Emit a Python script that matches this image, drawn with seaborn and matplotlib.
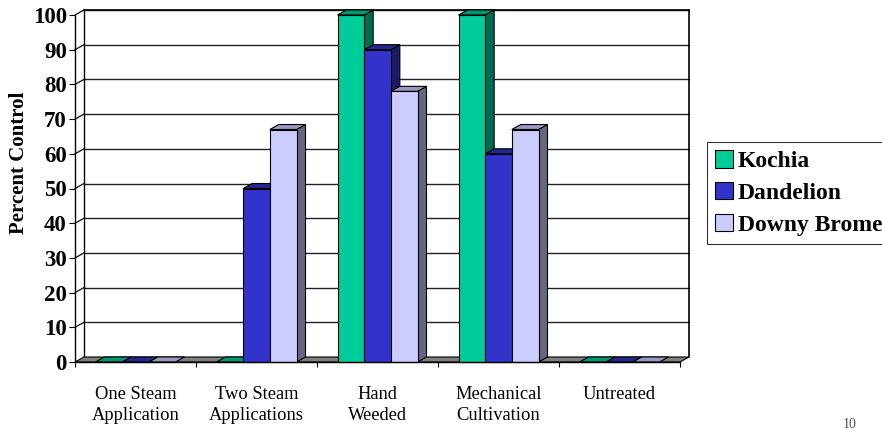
import numpy as np
import pandas as pd
import matplotlib
matplotlib.use("Agg")
import matplotlib.pyplot as plt
import matplotlib.transforms as mtransforms
from matplotlib.colors import to_hex
from matplotlib.patches import Polygon, Rectangle
from matplotlib.lines import Line2D
import seaborn as sns

# ---- data -------------------------------------------------------------
treatments = ["One Steam\nApplication", "Two Steam\nApplications", "Hand\nWeeded",
              "Mechanical\nCultivation", "Untreated"]
species = ["Kochia", "Dandelion", "Downy Brome"]
kochia = [0, 0, 100, 100, 0]
dandelion = [0, 50, 90, 60, 0]
downy_brome = [0, 67, 78, 67, 0]
y_ticks = list(range(0, 101, 10))

# ---- colours (front / top / side faces) --------------------------------
front_colors = {"Kochia": "#00CC99", "Dandelion": "#3333CC", "Downy Brome": "#CCCCFF"}
top_colors = {"Kochia": "#009973", "Dandelion": "#26268F", "Downy Brome": "#9999C0"}
side_colors = {"Kochia": "#006B50", "Dandelion": "#1C1C66", "Downy Brome": "#666680"}

df = pd.DataFrame({
    "treatment": treatments * 3,
    "species": [s for s in species for _ in treatments],
    "value": kochia + dandelion + downy_brome,
})

sns.set_style("white")
plt.rcParams["font.family"] = ["Liberation Serif", "DejaVu Serif"]
plt.rcParams["text.color"] = "black"
plt.rcParams["xtick.color"] = "black"
plt.rcParams["ytick.color"] = "black"
plt.rcParams["xtick.labelcolor"] = "black"
plt.rcParams["ytick.labelcolor"] = "black"

W, H = 882, 430
fig = plt.figure(figsize=(W / 100, H / 100), dpi=100)
ax = fig.add_axes([75 / W, 68 / H, 605 / W, 347 / H])

sns.barplot(data=df, x="treatment", y="value", hue="species", order=treatments,
            hue_order=species, palette=front_colors, saturation=1, width=80 / 121,
            gap=0, edgecolor="black", linewidth=0.8, legend=False, ax=ax)
bars = sorted([p for p in ax.patches if isinstance(p, Rectangle)], key=lambda p: p.get_x())

ax.set_xlim(-0.5, len(treatments) - 0.5)
ax.set_ylim(0, 100)
ax.set_autoscale_on(False)
for s in ax.spines.values():
    s.set_visible(False)
ax.patch.set_visible(False)
ax.set_xlabel("")
ax.set_ylabel("")

# depth of the pseudo-3D box, in pixels
DX, DY = 9.0, 5.0
ident = mtransforms.IdentityTransform()
x_lo, x_hi = -0.5, len(treatments) - 0.5


def fp(x, y):
    return np.array(ax.transData.transform((x, y)))


def bp(x, y):
    return fp(x, y) + np.array([DX, DY])


def line(p, q, color="black", lw=1.0, z=1.0):
    ax.add_line(Line2D([p[0], q[0]], [p[1], q[1]], color=color, lw=lw,
                       transform=ident, clip_on=False, zorder=z))


def poly(pts, face, z, lw=0.8):
    ax.add_patch(Polygon(np.array(pts), closed=True, facecolor=face, edgecolor="black",
                         lw=lw, transform=ident, clip_on=False, zorder=z))


# back wall, side wall and gridlines
poly([bp(x_lo, 0), bp(x_hi, 0), bp(x_hi, 100), bp(x_lo, 100)], "white", 0.5, lw=0)
for v in y_ticks[1:]:
    line(bp(x_lo, v), bp(x_hi, v), color="#202020", lw=1.0, z=0.8)
    line(fp(x_lo, v), bp(x_lo, v), color="#202020", lw=1.0, z=0.8)
line(bp(x_lo, 0), bp(x_lo, 100), lw=1.0, z=0.9)
line(bp(x_hi, 0), bp(x_hi, 100), lw=1.2, z=0.9)
line(bp(x_lo, 100), bp(x_hi, 100), lw=1.2, z=0.9)
line(fp(x_lo, 0), fp(x_lo, 100), lw=1.0, z=0.9)

# floor
poly([fp(x_lo, 0), fp(x_hi, 0), bp(x_hi, 0), bp(x_lo, 0)], "#808080", 1.0)

# give each bar a top and a right-hand face
color_to_species = {to_hex(c): s for s, c in front_colors.items()}
z = 2.0
off = np.array([DX, DY])
for p in bars:
    name = color_to_species.get(to_hex(p.get_facecolor()))
    if name is None:
        continue
    x0, w, h = p.get_x(), p.get_width(), p.get_height()
    B, C, D = fp(x0 + w, 0), fp(x0 + w, h), fp(x0, h)
    if h > 0:
        poly([B, C, C + off, B + off], side_colors[name], z)
    poly([D, C, C + off, D + off], top_colors[name], z + 0.1)
    p.set_zorder(z + 0.2)
    p.set_clip_on(False)
    z += 1.0

# axes ticks and labels
ax.set_yticks(y_ticks)
ax.set_yticklabels([str(v) for v in y_ticks], fontweight="bold", fontsize=16.5)
ax.tick_params(axis="y", direction="out", length=4.3, width=0.8, pad=1.5, left=True,
               color="black")

ax.set_xticks(np.arange(x_lo, x_hi + 0.01, 1.0))
ax.set_xticklabels([])
ax.set_xticks(np.arange(len(treatments)), minor=True)
ax.set_xticklabels(treatments, minor=True, fontsize=13.3, linespacing=1.3)
ax.tick_params(axis="x", which="major", direction="out", length=3.6, width=0.8,
               bottom=True, color="black")
ax.tick_params(axis="x", which="minor", length=0, pad=17)
line(fp(x_lo, 0), fp(x_hi, 0), lw=1.0, z=50)

fig.text(19 / W, 1 - 163 / H, "Percent Control", rotation=90, ha="center",
         va="center", fontsize=15, fontweight="bold", color="black")

handles = [Rectangle((0, 0), 1, 1, facecolor=front_colors[s], edgecolor="black", lw=0.8)
           for s in species]
leg = fig.legend(handles, species, loc="upper left", bbox_to_anchor=(707 / W, 1 - 142 / H),
                 frameon=True, fancybox=False, edgecolor="black",
                 prop={"weight": "bold", "size": 17}, handlelength=0.75,
                 handleheight=0.75, handletextpad=0.2, labelspacing=0.42,
                 borderpad=0.35, borderaxespad=0, labelcolor="black")
leg.get_frame().set_linewidth(0.8)

fig.text(850 / W, 1 - 418 / H, "10", ha="center", va="top", fontsize=10, color="#505050")

fig.savefig("out.png", dpi=100)
